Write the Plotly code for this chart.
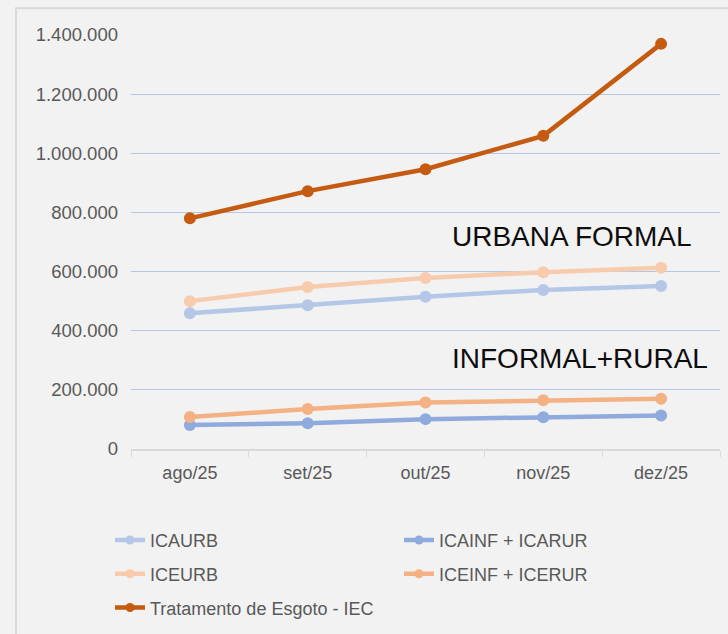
import plotly.graph_objects as go

# Monthly categories
months = ["ago/25", "set/25", "out/25", "nov/25", "dez/25"]

# Series values
icaurb = [459000, 486000, 515000, 538000, 551000]
icainf_icarur = [81000, 87000, 101000, 107000, 113000]
iceurb = [500000, 548000, 578000, 598000, 613000]
iceinf_icerur = [108000, 135000, 157000, 165000, 170000]
tratamento_iec = [780000, 872000, 946000, 1059000, 1370000]

# Y axis ticks
y_ticks = [0, 200000, 400000, 600000, 800000, 1000000, 1200000, 1400000]

FONT = "Liberation Sans, Arial, sans-serif"
TXT = "#595959"

W, H = 728, 634
ML, MR, MT, MB = 131, 8, 35, 182
PW, PH = W - ML - MR, H - MT - MB


def px_x(x):
    return (x - ML) / PW


def px_y(y):
    return (H - MB - y) / PH


series = [
    ("ICAURB", icaurb, "#b4c7e7", "legend"),
    ("ICAINF + ICARUR", icainf_icarur, "#8faadc", "legend"),
    ("ICEURB", iceurb, "#f8cbad", "legend2"),
    ("ICEINF + ICERUR", iceinf_icerur, "#f4b183", "legend2"),
    ("Tratamento de Esgoto - IEC", tratamento_iec, "#c55a11", "legend3"),
]

fig = go.Figure()
for name, vals, color, leg in series:
    # drawn series
    fig.add_trace(go.Scatter(
        x=months, y=vals, name=name, mode="lines+markers",
        line=dict(color=color, width=4.5),
        marker=dict(color=color, size=12),
        cliponaxis=False, showlegend=False, legendgroup=name,
    ))
    # legend key with a smaller marker
    fig.add_trace(go.Scatter(
        x=[None], y=[None], name=name, mode="lines+markers",
        line=dict(color=color, width=4.5),
        marker=dict(color=color, size=9),
        legend=leg, legendgroup=name,
    ))

leg_common = dict(
    orientation="h", xanchor="left", yanchor="middle",
    font=dict(family=FONT, size=18, color=TXT),
    bgcolor="rgba(0,0,0,0)", entrywidth=244, entrywidthmode="pixels",
    traceorder="normal",
)

fig.update_layout(
    width=W, height=H,
    margin=dict(l=ML, r=MR, t=MT, b=MB),
    paper_bgcolor="#f2f2f2", plot_bgcolor="#f2f2f2",
    separators=",.",
    font=dict(family=FONT, size=18, color=TXT),
    legend=dict(x=px_x(110), y=px_y(544), **leg_common),
    legend2=dict(x=px_x(110), y=px_y(578), **leg_common),
    legend3=dict(x=px_x(110), y=px_y(612), **leg_common),
    xaxis=dict(
        type="category", range=[-0.5, 4.5], tickson="boundaries",
        ticks="outside", ticklen=6, ticklabelstandoff=7,
        tickcolor="#d9d9d9", showline=True, linecolor="#d9d9d9", linewidth=1.5,
        showgrid=False, tickfont=dict(family=FONT, size=18, color=TXT),
        fixedrange=True,
    ),
    yaxis=dict(
        range=[0, 1400000], tickvals=y_ticks, tickformat=",d",
        showgrid=True, gridcolor="#b4c7e7", gridwidth=1.2, zeroline=False,
        showline=False, ticks="", ticklabelstandoff=12,
        tickfont=dict(family=FONT, size=18.5, color=TXT),
        fixedrange=True,
    ),
    shapes=[dict(
        type="rect", xref="paper", yref="paper",
        x0=px_x(16), y0=px_y(8), x1=px_x(760), y1=px_y(680),
        line=dict(color="#d9d9d9", width=2), fillcolor="rgba(0,0,0,0)",
        layer="below",
    )],
    annotations=[
        dict(text="URBANA FORMAL", xref="paper", yref="paper",
             x=px_x(450), y=px_y(238), xanchor="left", yanchor="middle",
             showarrow=False, font=dict(family=FONT, size=28, color="#0d0d0d")),
        dict(text="INFORMAL+RURAL", xref="paper", yref="paper",
             x=px_x(450), y=px_y(361), xanchor="left", yanchor="middle",
             showarrow=False, font=dict(family=FONT, size=28, color="#0d0d0d")),
    ],
)

fig.write_html("out.html", config={"displayModeBar": False})
